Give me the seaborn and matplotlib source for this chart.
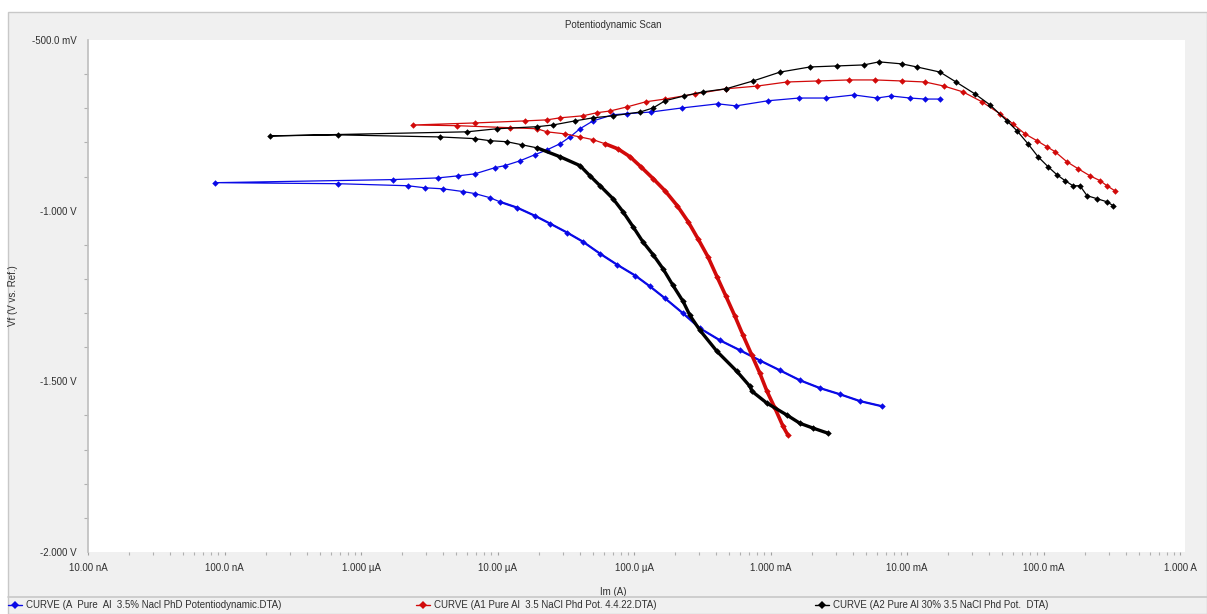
import numpy as np
import pandas as pd
import matplotlib
matplotlib.use("Agg")
import matplotlib.pyplot as plt
from matplotlib.lines import Line2D
from matplotlib.patches import Rectangle
from matplotlib.ticker import FixedLocator, LogLocator, NullFormatter
import seaborn as sns

# curve names (legend text)
names = ["CURVE (A  Pure  Al  3.5% Nacl PhD Potentiodynamic.DTA)",
         "CURVE (A1 Pure Al  3.5 NaCl Phd Pot. 4.4.22.DTA)",
         "CURVE (A2 Pure Al 30% 3.5 NaCl Phd Pot.  DTA)"]
colors = ["#0a0ae6", "#d20a0a", "#000000"]

# current in uA, potential in V, in scan order (cathodic end -> Ecorr -> anodic end)
a_i = [6560, 4530, 3230, 2310, 1644, 1175, 837, 598, 427, 305, 229, 169, 131, 102,
       75.0, 56.4, 42.3, 32.3, 24.3, 18.8, 13.9, 10.4, 8.81, 6.84, 5.59, 3.99, 2.94,
       2.21, 0.679, 0.0851,
       1.71, 3.66, 5.14, 6.84, 9.59, 11.35, 14.6, 18.8, 23.0, 28.7, 34.0, 40.2, 50.1,
       70.2, 88.9, 133, 225, 412, 559, 959, 1618, 2553, 4090, 6026, 7638, 10520,
       13550, 17460]
a_v = [-1.573, -1.558, -1.538, -1.520, -1.497, -1.468, -1.439, -1.409, -1.380, -1.345,
       -1.301, -1.257, -1.222, -1.190, -1.158, -1.126, -1.091, -1.064, -1.038, -1.015,
       -0.991, -0.974, -0.962, -0.950, -0.944, -0.936, -0.933, -0.927, -0.921, -0.918,
       -0.909, -0.904, -0.898, -0.892, -0.874, -0.868, -0.854, -0.836, -0.822, -0.804,
       -0.784, -0.760, -0.737, -0.719, -0.716, -0.711, -0.699, -0.687, -0.693, -0.678,
       -0.670, -0.670, -0.661, -0.670, -0.664, -0.670, -0.673, -0.673]

a1_i = [1343, 1236, 1079, 942, 837, 731, 629, 550, 472, 405, 348, 294, 249, 207, 169,
        138, 112, 93.5, 76.3, 61.3, 50.1, 40.2, 31.2, 23.0, 19.5, 12.4, 5.05, 2.40,
        6.84, 15.9, 23.0, 28.7, 42.3, 53.6, 66.7, 88.9, 122, 169, 280, 472, 796, 1321,
        2228, 3758, 5834, 9185, 13550, 18660, 25700, 35400, 47980, 59800, 73110,
        89540, 106100, 121400, 148600, 179000, 219300, 259400, 291700, 334200]
a1_v = [-1.658, -1.632, -1.579, -1.529, -1.477, -1.424, -1.365, -1.310, -1.251, -1.193,
        -1.135, -1.082, -1.032, -0.985, -0.942, -0.906, -0.871, -0.842, -0.819, -0.804,
        -0.792, -0.784, -0.775, -0.769, -0.760, -0.757, -0.751, -0.749,
        -0.743, -0.737, -0.734, -0.728, -0.722, -0.713, -0.708, -0.696, -0.681, -0.673,
        -0.658, -0.643, -0.635, -0.623, -0.620, -0.617, -0.617, -0.620, -0.623, -0.635,
        -0.652, -0.681, -0.716, -0.746, -0.775, -0.795, -0.813, -0.827, -0.857, -0.877,
        -0.898, -0.912, -0.927, -0.942]

a2_i = [2637, 2048, 1644, 1321, 942, 731, 708, 568, 405, 305, 257, 229, 193, 163, 138,
        116, 98.4, 83.0, 70.2, 56.4, 47.6, 40.2, 28.7, 19.5, 15.1, 11.7, 8.81, 6.84,
        3.79, 0.679, 0.215,
        5.98, 9.92, 19.5, 25.5, 36.9, 50.1, 70.2, 111, 138, 169, 232, 320, 472, 745,
        1175, 1946, 3069, 4842, 6237, 9185, 11830, 17460, 22860, 31480, 40550, 54050,
        63970, 76950, 91200, 107900, 125600, 143800, 164400, 185000, 208400, 246600,
        291700, 322800]
a2_v = [-1.652, -1.637, -1.623, -1.599, -1.564, -1.529, -1.515, -1.471, -1.412, -1.351,
        -1.307, -1.266, -1.219, -1.170, -1.129, -1.091, -1.047, -1.003, -0.965, -0.927,
        -0.898, -0.868, -0.842, -0.816, -0.807, -0.798, -0.795, -0.789, -0.784, -0.778,
        -0.781,
        -0.769, -0.760, -0.754, -0.749, -0.737, -0.728, -0.722, -0.711, -0.699, -0.678,
        -0.664, -0.652, -0.643, -0.620, -0.594, -0.579, -0.576, -0.573, -0.564, -0.570,
        -0.579, -0.594, -0.623, -0.658, -0.690, -0.737, -0.766, -0.804, -0.842, -0.871,
        -0.895, -0.912, -0.927, -0.927, -0.956, -0.965, -0.974, -0.985]

# number of points in the densely sampled part of each cathodic branch
dense_n = [22, 20, 24]

x_ticks = [1e-8, 1e-7, 1e-6, 1e-5, 1e-4, 1e-3, 1e-2, 1e-1, 1.0]
x_labels = ["10.00 nA", "100.0 nA", "1.000 \u00b5A", "10.00 \u00b5A", "100.0 \u00b5A",
            "1.000 mA", "10.00 mA", "100.0 mA", "1.000 A"]
y_ticks = [-0.5, -1.0, -1.5, -2.0]
y_labels = ["-500.0 mV", "-1.000 V", "-1.500 V", "-2.000 V"]

sns.set_theme(style="white")
plt.rcParams["font.family"] = ["Liberation Sans", "DejaVu Sans"]
plt.rcParams["font.size"] = 7

W, H = 1207, 614
fig = plt.figure(figsize=(W / 100, H / 100), dpi=100, facecolor="white")
# grey window panel
fig.add_artist(Rectangle((8 / W, 0), 1 - 8 / W, 1 - 12 / H, transform=fig.transFigure,
                         facecolor="#f0f0f0", edgecolor="#c8c8c8", lw=1, zorder=0))
fig.add_artist(Line2D([8 / W, 1], [1 - 597 / H, 1 - 597 / H], transform=fig.transFigure,
                      color="#c8c8c8", lw=1.2))

ax = fig.add_axes([88 / W, 1 - 552 / H, (1185 - 88) / W, (552 - 40) / H])
ax.set_facecolor("white")

thick = [1.6, 2.6, 2.4]
for n, c, i_ua, v, k, tw in zip(names, colors, [a_i, a1_i, a2_i], [a_v, a1_v, a2_v],
                                dense_n, thick):
    d = pd.DataFrame({"current": np.array(i_ua) * 1e-6, "potential": v})
    # full scan, thin line with markers
    sns.lineplot(data=d, x="current", y="potential", color=c, sort=False,
                 estimator=None, marker="D", markersize=3.3, markeredgewidth=0,
                 lw=0.9, ax=ax)
    # dense cathodic part looks like a heavy line
    sns.lineplot(data=d.iloc[:k], x="current", y="potential", color=c, sort=False,
                 estimator=None, lw=tw, ax=ax)

ax.set_xscale("log")
ax.set_xlim(1e-8, 1.088)
ax.set_ylim(-2.0, -0.5)
ax.xaxis.set_major_locator(FixedLocator(x_ticks))
ax.set_xticklabels(x_labels)
ax.xaxis.set_minor_locator(LogLocator(base=10, subs=np.arange(2, 10), numticks=20))
ax.xaxis.set_minor_formatter(NullFormatter())
ax.yaxis.set_major_locator(FixedLocator(y_ticks))
ax.set_yticklabels(y_labels)
ax.yaxis.set_minor_locator(FixedLocator(np.arange(-1.9, -0.55, 0.1)))

ax.tick_params(axis="x", which="major", length=2, width=0.8, color="#a0a0a0",
               pad=6, labelsize=7, labelcolor="#303030", bottom=True)
ax.tick_params(axis="x", which="minor", length=2, width=0.8, color="#b0b0b0", bottom=True)
ax.tick_params(axis="y", which="major", length=0, pad=8, labelsize=7, labelcolor="#303030")
ax.tick_params(axis="y", which="minor", length=3, width=0.8, color="#b0b0b0", left=True)

for s in ["top", "right"]:
    ax.spines[s].set_visible(False)
ax.spines["left"].set_color("#c0c0c0")
ax.spines["bottom"].set_visible(False)

ax.set_xlabel("Im (A)", fontsize=7, color="#303030")
ax.set_ylabel("Vf (V vs. Ref.)", fontsize=7, color="#303030")
ax.xaxis.set_label_coords((613 - 88) / (1185 - 88), -(587 - 552) / (552 - 40))
ax.yaxis.set_label_coords(-(88 - 18) / (1185 - 88), 0.5)

fig.text(613 / W, 1 - 25 / H, "Potentiodynamic Scan", ha="center", va="center",
         fontsize=7, color="#303030")

# legend strip along the bottom
for n, c, x0 in zip(names, colors, [8, 416, 815]):
    h = Line2D([], [], color=c, marker="D", markersize=4, markeredgewidth=0, lw=1)
    fig.legend(handles=[h], labels=[n], loc="center left",
               bbox_to_anchor=(x0 / W, 1 - 605 / H), frameon=False, fontsize=7,
               handlelength=1.4, handletextpad=0.5, borderaxespad=0, borderpad=0,
               labelcolor="#303030")

fig.savefig("out.png", dpi=100, facecolor="white")
